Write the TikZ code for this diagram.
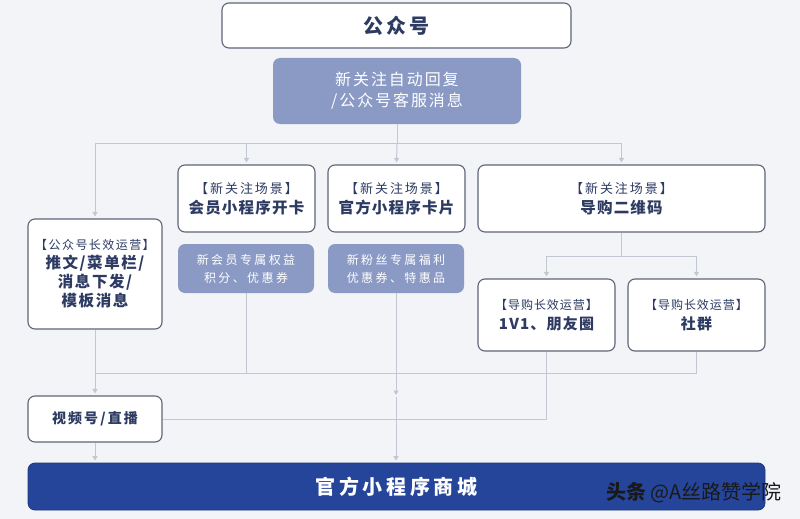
\documentclass[tikz,border=0pt]{standalone}
\usepackage{fontspec}
\setmainfont{Noto Sans CJK SC}
\usetikzlibrary{arrows.meta}
\definecolor{bgc}{HTML}{F3F4F8}
\definecolor{bordc}{HTML}{5E6577}
\definecolor{navy}{HTML}{2D3B63}
\definecolor{bluegray}{HTML}{8A9AC5}
\definecolor{mallc}{HTML}{25459A}
\definecolor{connc}{HTML}{C3C7D2}
\newcommand{\lspc}[1]{\addfontfeatures{LetterSpace=#1}}
\newcommand{\fsz}[2]{\fontsize{#1}{#2}\selectfont}
\tikzset{
  box/.style={draw=bordc, line width=1.1pt, fill=white, rounded corners=7pt, inner sep=0pt, align=center, text=navy},
  subbox/.style={fill=bluegray, rounded corners=7pt, inner sep=0pt, align=center, text=white},
  conn/.style={draw=connc, line width=1pt},
  arr/.style={conn, -{Triangle[width=5pt,length=4.5pt]}, shorten >=2pt},
}
\begin{document}
\begin{tikzpicture}[x=1pt,y=-1pt]
\fill[bgc] (0,0) rectangle (800,519);
\useasboundingbox (0,0) rectangle (800,519);

% top
\node[box, minimum width=349pt, minimum height=45pt, font=\fsz{20}{24}\bfseries\lspc{15}] (gzh) at (396.5,25.5) {公众号};
\node[subbox, minimum width=248pt, minimum height=66pt, font=\fsz{16}{21}\lspc{12}] (auto) at (397,91) {新关注自动回复\\/公众号客服消息};

% second row
\node[box, minimum width=134pt, minimum height=110pt, font=\fsz{12}{19}] (lt) at (95,274)
  {{\lspc{12}【公众号长效运营】}\\{\fsz{15.5}{19}\bfseries\lspc{10}推文/菜单栏/}\\{\fsz{15.5}{19}\bfseries\lspc{10}消息下发/}\\{\fsz{15.5}{19}\bfseries\lspc{10}模板消息}};
\node[box, minimum width=137pt, minimum height=67pt, font=\fsz{13}{20}] (hy) at (246.5,198.5)
  {{\lspc{15}【新关注场景】}\\{\fsz{15.5}{20}\bfseries\lspc{8}会员小程序开卡}};
\node[box, minimum width=137pt, minimum height=67pt, font=\fsz{13}{20}] (gf) at (396.5,198.5)
  {{\lspc{15}【新关注场景】}\\{\fsz{15.5}{20}\bfseries\lspc{8}官方小程序卡片}};
\node[box, minimum width=287pt, minimum height=67pt, font=\fsz{13}{20}] (dg) at (621.5,198.5)
  {{\lspc{15}【新关注场景】}\\{\fsz{15.5}{20}\bfseries\lspc{8}导购二维码}};

\node[subbox, minimum width=136pt, minimum height=49pt, font=\fsz{12}{18}\lspc{20}] (hysub) at (246,268.5) {新会员专属权益\\积分、优惠券};
\node[subbox, minimum width=136pt, minimum height=49pt, font=\fsz{12}{18}\lspc{20}] (gfsub) at (396,268.5) {新粉丝专属福利\\优惠券、特惠品};

\node[box, minimum width=137pt, minimum height=72pt, font=\fsz{12}{20}] (v1) at (546.5,315)
  {{\lspc{8}【导购长效运营】}\\{\fsz{15}{20}\bfseries\lspc{8}1V1、朋友圈}};
\node[box, minimum width=137pt, minimum height=72pt, font=\fsz{12}{20}] (sq) at (696.5,315)
  {{\lspc{8}【导购长效运营】}\\{\fsz{15}{20}\bfseries\lspc{8}社群}};

\node[box, minimum width=134pt, minimum height=46pt, font=\fsz{14}{18}\bfseries\lspc{15}] (sph) at (95,419) {视频号/直播};

\node[fill=mallc, draw=mallc!80!black, line width=0.8pt, rounded corners=7pt, minimum width=737pt, minimum height=47pt, inner sep=0pt, text=white, font=\fsz{20}{24}\bfseries\lspc{18}] (mall) at (396.5,486.5) {官方小程序商城};

\node[inner sep=0pt, text=black!90, font=\fsz{20}{24}] (wm) at (694,493) {{\bfseries 头条} @A丝路赞学院};

% connectors
\coordinate (j1) at (397,143);
\coordinate (j2) at (621.5,256);
\coordinate (j3) at (95,373);
\coordinate (j4) at (396,397);

\draw[conn] (auto.south) -- (j1);
\draw[arr] (j1) -| (lt.north);
\draw[arr] (j1) -| (hy.north);
\draw[arr] (j1) -- (gf.north);
\draw[arr] (j1) -| (dg.north);

\draw[conn] (dg.south) -- (j2);
\draw[arr] (j2) -| (v1.north);
\draw[arr] (j2) -| (sq.north);

\draw[conn] (hysub.south) |- (j3);
\draw[conn] (sq.south) |- (j3);
\draw[arr] (lt.south) -- (sph.north);
\draw[conn] (v1.south) |- (sph.east);

\draw[arr] (gfsub.south) -- (j4);
\draw[arr] (j4) -- (j4 |- mall.north);
\draw[arr] (sph.south) -- (sph.south |- mall.north);
\end{tikzpicture}
\end{document}
